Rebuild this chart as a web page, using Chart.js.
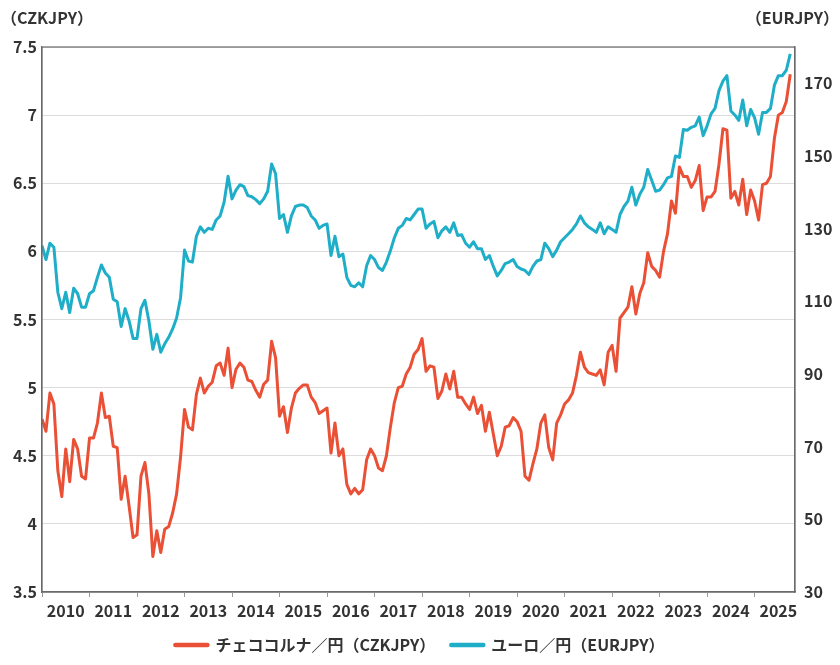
<!DOCTYPE html>
<html>
<head>
<meta charset="utf-8">
<script src="https://cdn.jsdelivr.net/npm/chart.js@4"></script>
<style>
  html, body { margin: 0; padding: 0; background: #fff; }
  #wrap { width: 840px; height: 665px; position: relative; }
</style>
</head>
<body>
<div id="wrap"><canvas id="c" width="840" height="665"></canvas></div>
<script>
// Monthly data, Jan 2010 onward
const startYear = 2010;
const yearLabels = ['2010','2011','2012','2013','2014','2015','2016','2017','2018','2019','2020','2021','2022','2023','2024','2025'];
const czkTicks = [3.5, 4, 4.5, 5, 5.5, 6, 6.5, 7, 7.5];
const eurTicks = [30, 50, 70, 90, 110, 130, 150, 170];

const czkjpy = [
  4.77,4.68,4.96,4.88,4.39,4.20,4.55,4.31,4.62,4.55,4.35,4.33,
  4.63,4.63,4.74,4.96,4.78,4.79,4.57,4.56,4.18,4.35,4.13,3.90,
  3.92,4.35,4.45,4.22,3.76,3.95,3.79,3.96,3.98,4.08,4.22,4.49,
  4.84,4.71,4.69,4.95,5.07,4.96,5.01,5.04,5.16,5.18,5.09,5.29,
  5.00,5.135,5.18,5.15,5.055,5.045,4.98,4.93,5.025,5.055,5.34,5.22,
  4.79,4.86,4.67,4.85,4.96,4.995,5.02,5.02,4.93,4.89,4.81,4.83,
  4.85,4.52,4.74,4.50,4.55,4.29,4.22,4.26,4.22,4.25,4.47,4.55,
  4.50,4.41,4.39,4.50,4.71,4.89,5.00,5.01,5.10,5.15,5.245,5.28,
  5.36,5.12,5.16,5.15,4.92,4.975,5.10,4.99,5.12,4.93,4.93,4.88,
  4.84,4.93,4.81,4.87,4.68,4.82,4.66,4.50,4.57,4.71,4.72,4.78,
  4.75,4.68,4.35,4.32,4.44,4.55,4.74,4.80,4.56,4.47,4.74,4.80,
  4.88,4.91,4.96,5.09,5.26,5.15,5.11,5.10,5.09,5.13,5.02,5.26,
  5.31,5.12,5.51,5.55,5.59,5.74,5.54,5.69,5.77,5.99,5.89,5.86,
  5.81,6.00,6.13,6.37,6.28,6.62,6.55,6.55,6.47,6.52,6.63,6.30,
  6.40,6.40,6.44,6.64,6.90,6.89,6.39,6.44,6.34,6.53,6.27,6.45,
  6.37,6.23,6.49,6.50,6.55,6.83,7.00,7.02,7.10,7.30
];

const eurjpy = [
  125.3,121.5,126.0,124.9,112.5,108.0,112.5,106.9,113.6,112.1,108.4,108.4,
  112.1,112.9,116.6,120.0,117.8,116.6,110.6,109.9,103.1,108.0,104.6,99.8,
  99.8,108.0,110.3,104.6,96.8,100.9,96.0,98.3,100.1,102.4,105.4,111.0,
  124.1,121.1,120.8,127.9,130.5,129.0,130.1,129.8,132.4,133.5,137.3,144.4,
  138.2,140.6,142.1,141.6,139.1,138.8,138.0,136.9,138.2,140.3,147.8,145.1,
  132.8,133.9,129.0,133.5,136.1,136.5,136.5,135.8,133.5,132.4,130.1,130.9,
  131.3,122.6,127.9,122.3,123.0,116.6,114.4,114.0,115.1,114.0,119.8,122.6,
  121.5,119.3,118.5,120.8,123.9,127.5,130.1,130.9,132.8,132.4,133.9,135.4,
  135.4,130.1,131.3,132.0,127.5,129.4,130.5,129.0,131.6,128.1,128.3,126.0,
  124.9,126.4,124.5,124.5,121.5,122.6,119.6,117.0,118.5,120.4,120.8,121.5,
  119.6,118.9,118.5,117.4,119.6,121.1,121.5,126.0,124.5,122.3,124.1,126.4,
  127.5,128.6,129.8,131.3,133.5,131.6,130.5,129.8,129.0,131.6,128.6,130.5,
  129.8,129.0,133.9,136.1,137.6,141.4,136.5,139.5,141.4,146.3,143.3,140.3,
  140.6,142.1,144.0,144.4,150.0,149.6,157.3,157.1,157.9,158.3,160.7,155.6,
  158.3,161.6,163.1,168.0,170.6,172.1,162.4,161.3,159.8,165.4,158.3,162.8,
  160.5,156.0,162.0,162.0,163.1,169.5,172.1,172.1,173.6,178.1
];

const RED = '#ea5035';
const BLUE = '#1eaec8';
const FONT = "'Noto Sans CJK JP', 'Noto Sans', sans-serif";
const TXT = '#333333';
const WEIGHT = 'bold';

const framePlugin = {
  id: 'frame',
  afterDraw(chart) {
    const {ctx, chartArea: a} = chart;
    ctx.save();
    ctx.strokeStyle = '#6b6b6b';
    ctx.lineWidth = 1.2;
    ctx.strokeRect(a.left, a.top, a.right - a.left, a.bottom - a.top);
    ctx.fillStyle = TXT;
    ctx.font = WEIGHT + " 16px " + FONT;
    ctx.textBaseline = 'middle';
    ctx.textAlign = 'left';
    ctx.fillText('（CZKJPY）', 1, 18);
    ctx.textAlign = 'right';
    ctx.fillText('（EURJPY）', 839, 18);
    ctx.restore();
  }
};

new Chart(document.getElementById('c'), {
  type: 'line',
  data: {
    datasets: [
      {
        label: 'チェココルナ／円（CZKJPY）',
        data: czkjpy.map((v, i) => ({x: i, y: v})),
        borderColor: RED, backgroundColor: RED,
        borderWidth: 3, pointRadius: 0, tension: 0,
        borderJoinStyle: 'round', yAxisID: 'y'
      },
      {
        label: 'ユーロ／円（EURJPY）',
        data: eurjpy.map((v, i) => ({x: i, y: v})),
        borderColor: BLUE, backgroundColor: BLUE,
        borderWidth: 3, pointRadius: 0, tension: 0,
        borderJoinStyle: 'round', yAxisID: 'y2'
      }
    ]
  },
  options: {
    responsive: false,
    animation: false,
    layout: { padding: { top: 47, left: 0, right: 0, bottom: 2 } },
    plugins: {
      tooltip: { enabled: false },
      legend: {
        position: 'bottom',
        labels: {
          usePointStyle: true,
          pointStyle: 'line',
          pointStyleWidth: 32,
          color: TXT,
          padding: 16,
          font: { family: FONT, size: 16, weight: WEIGHT },
          generateLabels(chart) {
            return chart.data.datasets.map((d, i) => ({
              text: d.label, fillStyle: d.borderColor, strokeStyle: d.borderColor,
              lineWidth: 4.5, lineCap: 'round', pointStyle: 'line', hidden: false,
              datasetIndex: i, fontColor: TXT
            }));
          }
        }
      }
    },
    scales: {
      x: {
        type: 'linear',
        min: 0, max: 190.2,
        afterBuildTicks(scale) {
          const t = [];
          for (let k = 0; k < yearLabels.length; k++) {
            t.push({value: k * 12});
            t.push({value: k * 12 + 6});
          }
          scale.ticks = t;
        },
        afterFit(scale) { scale.height = 29; },
        ticks: {
          autoSkip: false, maxRotation: 0, padding: 4,
          color: TXT,
          font: { family: FONT, size: 16, weight: WEIGHT },
          callback(v) {
            if (v % 12 === 6) return yearLabels[(v - 6) / 12];
            return '';
          }
        },
        grid: {
          drawOnChartArea: false, drawTicks: true, tickLength: 5,
          tickColor: (c) => (c.tick && c.tick.value % 12 === 0) ? '#999' : 'rgba(0,0,0,0)'
        },
        border: { display: true, color: '#6b6b6b', width: 1.2 }
      },
      y: {
        position: 'left',
        min: 3.5, max: 7.5,
        afterBuildTicks(scale) { scale.ticks = czkTicks.map(v => ({value: v})); },
        afterFit(scale) { scale.width = 42; },
        ticks: {
          padding: 5, color: TXT,
          font: { family: FONT, size: 16, weight: WEIGHT },
          callback: (v) => String(v)
        },
        grid: { color: '#dcdcdc', lineWidth: 1, drawTicks: false },
        border: { display: true, color: '#6b6b6b', width: 1.2 }
      },
      y2: {
        position: 'right',
        min: 30, max: 180,
        afterBuildTicks(scale) { scale.ticks = eurTicks.map(v => ({value: v})); },
        afterFit(scale) { scale.width = 45; },
        ticks: {
          padding: 9, color: TXT,
          font: { family: FONT, size: 16, weight: WEIGHT },
          callback: (v) => String(v)
        },
        grid: { display: false, drawTicks: false },
        border: { display: true, color: '#6b6b6b', width: 1.2 }
      }
    }
  },
  plugins: [framePlugin]
});
</script>
</body>
</html>
